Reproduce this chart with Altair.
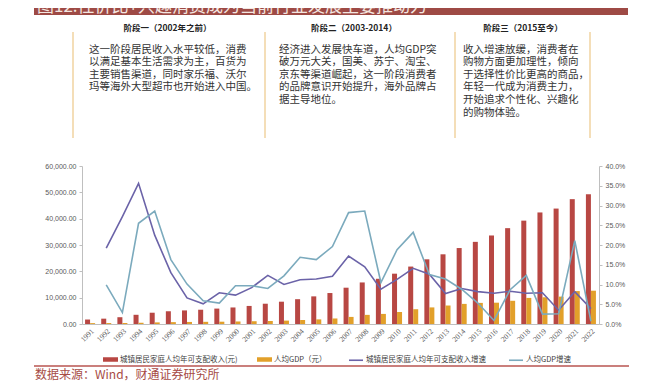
import altair as alt
import pandas as pd

years = [str(y) for y in range(1991, 2023)]
income = [1701, 2027, 2577, 3496, 4283, 4839, 5160, 5425, 5854, 6280, 6860, 7703,
          8472, 9422, 10493, 11759, 13786, 15781, 17175, 19109, 21810, 24565,
          26467, 28844, 31195, 33616, 36396, 39251, 42359, 43834, 47412, 49283]
gdp_pc = [333, 366, 377, 469, 610, 709, 781, 829, 873, 959, 1053, 1149, 1288, 1509,
          1753, 2099, 2694, 3468, 3832, 4550, 5614, 6301, 7020, 7636, 8016, 8094,
          8817, 9905, 10144, 10400, 12500, 12650]
income_growth = [None, 19.2, 27.2, 35.6, 22.5, 13.0, 6.6, 5.1, 7.9, 7.3, 9.2, 12.3,
                 10.0, 11.2, 11.4, 12.1, 17.2, 14.5, 8.8, 11.3, 14.1, 12.6, 7.7, 9.0,
                 8.2, 7.8, 8.3, 7.8, 7.9, 3.5, 8.2, 3.9]
gdp_growth = [None, 9.9, 2.9, 25.5, 28.6, 16.3, 10.1, 5.9, 5.3, 9.7, 9.7, 9.0, 12.2,
              16.9, 16.3, 19.6, 28.2, 28.6, 10.5, 18.8, 23.2, 12.5, 11.4, 8.8, 5.3,
              0.9, 8.7, 12.3, 2.5, 2.6, 21.1, 0.7]

bar_names = ["城镇居民家庭人均年可支配收入(元)", "人均GDP（元）"]
line_names = ["城镇居民家庭人均年可支配收入增速", "人均GDP增速"]
bar_colors = ["#B84743", "#E2A02A"]
line_colors = ["#6B63A8", "#7BAABD"]

title_text = "图12.性价比+兴趣消费成为当前行业发展主要推动力"
phase_titles = ["阶段一（2002年之前）", "阶段二（2003-2014）", "阶段三（2015至今）"]
phase_texts = [
    ["这一阶段居民收入水平较低，消费",
     "以满足基本生活需求为主，百货为",
     "主要销售渠道，同时家乐福、沃尔",
     "玛等海外大型超市也开始进入中国。"],
    ["经济进入发展快车道，人均GDP突",
     "破万元大关，国美、苏宁、淘宝、",
     "京东等渠道崛起，这一阶段消费者",
     "的品牌意识开始提升，海外品牌占",
     "据主导地位。"],
    ["收入增速放缓，消费者在",
     "购物方面更加理性，倾向",
     "于选择性价比更高的商品，",
     "年轻一代成为消费主力，",
     "开始追求个性化、兴趣化",
     "的购物体验。"],
]
source_text = "数据来源：Wind，财通证券研究所"

CJK = "Noto Sans CJK SC"

bars_df = pd.DataFrame({
    "year": years * 2,
    "series": [bar_names[0]] * len(years) + [bar_names[1]] * len(years),
    "value": income + gdp_pc,
})
lines_df = pd.DataFrame({
    "year": years * 2,
    "series": [line_names[0]] * len(years) + [line_names[1]] * len(years),
    "value": [None if v is None else v / 100 for v in income_growth]
             + [None if v is None else v / 100 for v in gdp_growth],
})

x_scale = alt.Scale(domain=years, paddingInner=0.38, paddingOuter=0.19)
x_axis = alt.Axis(title=None, labelAngle=-45, labelFont="Liberation Serif",
                  labelFontSize=7.5, labelColor="#595959", ticks=False,
                  domainColor="#BFBFBF", labelPadding=3)

bars = alt.Chart(bars_df).mark_bar().encode(
    x=alt.X("year:N", scale=x_scale, axis=x_axis, sort=years),
    xOffset=alt.XOffset("series:N", sort=bar_names, scale=alt.Scale(domain=bar_names)),
    y=alt.Y("value:Q", scale=alt.Scale(domain=[0, 60000]),
            axis=alt.Axis(title=None, orient="left",
                          values=[0, 10000, 20000, 30000, 40000, 50000, 60000],
                          format=",.2f", labelFont="Liberation Sans", labelFontSize=7,
                          labelColor="#595959", grid=False, domainColor="#BFBFBF",
                          tickColor="#BFBFBF", tickSize=3, labelPadding=3)),
    color=alt.Color("series:N", sort=bar_names,
                    scale=alt.Scale(domain=bar_names, range=bar_colors),
                    legend=alt.Legend(title=None, orient="none", legendX=21, legendY=186,
                                      direction="horizontal",
                                      symbolType="M-1,-0.3L1,-0.3L1,0.3L-1,0.3Z",
                                      symbolSize=225, symbolStrokeWidth=0,
                                      labelFont=CJK, labelFontSize=7.5,
                                      labelColor="#404040", labelOffset=2,
                                      columnPadding=19, padding=0)),
)

lines = alt.Chart(lines_df).mark_line(strokeWidth=1.6).encode(
    x=alt.X("year:N", scale=x_scale, sort=years, axis=x_axis),
    y=alt.Y("value:Q", scale=alt.Scale(domain=[0, 0.4]),
            axis=alt.Axis(title=None, orient="right",
                          values=[0, 0.05, 0.1, 0.15, 0.2, 0.25, 0.3, 0.35, 0.4],
                          format=".1%", labelFont="Liberation Sans", labelFontSize=7,
                          labelColor="#595959", grid=False, domainColor="#BFBFBF",
                          tickColor="#BFBFBF", tickSize=3, labelPadding=3)),
    stroke=alt.Stroke("series:N", sort=line_names,
                      scale=alt.Scale(domain=line_names, range=line_colors),
                      legend=alt.Legend(title=None, orient="none", legendX=266, legendY=186,
                                        direction="horizontal", symbolType="stroke",
                                        symbolSize=196, symbolStrokeWidth=1.6,
                                        labelFont=CJK, labelFontSize=7.5,
                                        labelColor="#404040", labelOffset=2,
                                        columnPadding=19, padding=0)),
)

one = pd.DataFrame({"k": [0]})

title_bar = alt.Chart(one).mark_rect(color="#9E4A45").encode(
    x=alt.value(-48), x2=alt.value(546), y=alt.value(-175), y2=alt.value(-151))
title = alt.Chart(one).mark_text(align="left", baseline="alphabetic", fontSize=17,
                                 font=CJK, color="#F3E6E0").encode(
    x=alt.value(-45), y=alt.value(-154), text=alt.value(title_text))

layers = [title_bar, title]

header_x = [85.5, 272, 441]
for hx, ht in zip(header_x, phase_titles):
    layers.append(alt.Chart(one).mark_text(align="center", baseline="middle", fontSize=8.5,
                                           font=CJK, fontWeight="bold", color="#222222").encode(
        x=alt.value(hx), y=alt.value(-138), text=alt.value(ht)))

for rx in [-9, 183, 373, 508]:
    layers.append(alt.Chart(one).mark_rule(color="#F0D3A0", strokeWidth=1.5).encode(
        x=alt.value(rx), y=alt.value(-134), y2=alt.value(-28)))

text_x = [7, 197, 381]
for tx, lines_txt in zip(text_x, phase_texts):
    for i, ln in enumerate(lines_txt):
        layers.append(alt.Chart(one).mark_text(align="left", baseline="middle", fontSize=10.5,
                                               font=CJK, color="#333333").encode(
            x=alt.value(tx), y=alt.value(-116.5 + 12.6 * i), text=alt.value(ln)))

sep = alt.Chart(one).mark_rect(color="#B85450").encode(
    x=alt.value(-48), x2=alt.value(547), y=alt.value(199.3), y2=alt.value(200.8))
src = alt.Chart(one).mark_text(align="left", baseline="middle", fontSize=12, font=CJK,
                               color="#A64B45").encode(
    x=alt.value(-47), y=alt.value(209), text=alt.value(source_text))

layers += [sep, src]

chart = alt.layer(bars, lines, *layers).resolve_scale(
    y="independent", color="independent"
).properties(
    width=517, height=158,
    autosize=alt.AutoSizeParams(type="none"),
    padding={"left": 74, "top": 158, "right": 39, "bottom": 58},
).configure_view(stroke="transparent")

chart.save("out.html", embed_options={"renderer": "svg", "actions": False})
